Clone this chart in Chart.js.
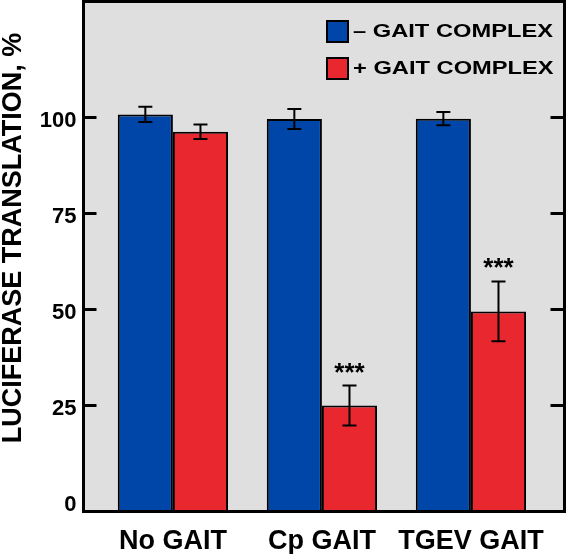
<!DOCTYPE html>
<html>
<head>
<meta charset="utf-8">
<script src="https://cdn.jsdelivr.net/npm/chart.js@4/dist/chart.umd.min.js"></script>
<style>
  html, body { margin: 0; padding: 0; background: #fff; }
</style>
</head>
<body>
<canvas id="chart" width="566" height="554"></canvas>
<script>
const categories = ['No GAIT', 'Cp GAIT', 'TGEV GAIT'];
const seriesNames = ['\u2013 GAIT COMPLEX', '+ GAIT COMPLEX'];
const minusGait = [100.8, 99.6, 99.7];
const minusGaitErr = [2.0, 2.6, 1.7];
const plusGait = [96.3, 25.0, 49.5];
const plusGaitErr = [1.9, 5.2, 7.8];
const plusGaitMarks = ['', '***', '***'];
const yTicks = [0, 25, 50, 75, 100];
const yTitle = 'LUCIFERASE TRANSLATION, %';

const Y_MIN = -2.6, Y_MAX = 130.2;
const FONT = "'Liberation Sans', Arial, sans-serif";

// grey panel, error bars, stars, frame, inward ticks, legend, y title
const panelPlugin = {
  id: 'panel',
  beforeDraw(chart) {
    const { ctx, chartArea: a } = chart;
    ctx.save();
    ctx.fillStyle = '#dfdfdf';
    ctx.fillRect(a.left, a.top, a.right - a.left, a.bottom - a.top);
    ctx.restore();
  },
  afterDatasetsDraw(chart) {
    const { ctx, chartArea: a } = chart;
    const ys = chart.scales.y;
    ctx.save();
    ctx.strokeStyle = '#000';
    ctx.fillStyle = '#000';
    ctx.lineWidth = 2;
    chart.data.datasets.forEach((ds, i) => {
      const meta = chart.getDatasetMeta(i);
      meta.data.forEach((bar, j) => {
        const v = ds.data[j].y, e = ds.errors[j];
        const y1 = ys.getPixelForValue(v + e), y2 = ys.getPixelForValue(v - e);
        ctx.beginPath();
        ctx.moveTo(bar.x, y1); ctx.lineTo(bar.x, y2);
        ctx.moveTo(bar.x - 7, y1); ctx.lineTo(bar.x + 7, y1);
        ctx.moveTo(bar.x - 7, y2); ctx.lineTo(bar.x + 7, y2);
        ctx.stroke();
        if (ds.marks && ds.marks[j]) {
          ctx.font = 'bold 26px ' + FONT;
          ctx.textAlign = 'center';
          ctx.textBaseline = 'alphabetic';
          ctx.fillText(ds.marks[j], bar.x, y1 - 5);
        }
      });
    });

    // frame
    ctx.lineWidth = 3;
    ctx.strokeRect(a.left, a.top, a.right - a.left, a.bottom - a.top);
    // inward ticks
    yTicks.forEach(t => {
      if (t === 0) return;
      const y = ys.getPixelForValue(t);
      ctx.beginPath();
      ctx.moveTo(a.left, y); ctx.lineTo(a.left + 13, y);
      ctx.moveTo(a.right, y); ctx.lineTo(a.right - 14, y);
      ctx.stroke();
    });
    ctx.restore();
  },
  afterDraw(chart) {
    const { ctx } = chart;
    ctx.save();
    // legend inside the panel
    chart.data.datasets.forEach((ds, i) => {
      const top = 21 + i * 37;
      ctx.fillStyle = ds.backgroundColor;
      ctx.fillRect(327, top, 21, 21);
      ctx.strokeStyle = '#000';
      ctx.lineWidth = 2;
      ctx.strokeRect(327, top, 21, 21);
      ctx.save();
      ctx.translate(353, top + 11);
      ctx.scale(1.28, 1);
      ctx.fillStyle = '#000';
      ctx.font = 'bold 18.5px ' + FONT;
      ctx.textAlign = 'left';
      ctx.textBaseline = 'middle';
      ctx.fillText(ds.label, 0, 0);
      ctx.restore();
    });
    // y axis title
    ctx.translate(14, 238);
    ctx.rotate(-Math.PI / 2);
    ctx.fillStyle = '#000';
    ctx.font = 'bold 27px ' + FONT;
    ctx.textAlign = 'center';
    ctx.textBaseline = 'middle';
    ctx.fillText(yTitle, 0, 0);
    ctx.restore();
  }
};

const ctx = document.getElementById('chart').getContext('2d');
new Chart(ctx, {
  type: 'bar',
  data: {
    datasets: [{
      label: seriesNames[0],
      data: minusGait.map((v, i) => ({ x: i, y: v })),
      errors: minusGaitErr,
      backgroundColor: '#0046a8',
      borderColor: '#000',
      borderWidth: 2,
      base: Y_MIN
    }, {
      label: seriesNames[1],
      data: plusGait.map((v, i) => ({ x: i, y: v })),
      errors: plusGaitErr,
      marks: plusGaitMarks,
      backgroundColor: '#e8282e',
      borderColor: '#000',
      borderWidth: 2,
      base: Y_MIN
    }]
  },
  options: {
    responsive: false,
    animation: false,
    devicePixelRatio: 1,
    categoryPercentage: 0.74,
    barPercentage: 1,
    layout: { padding: { top: 1.5, right: 1.5, left: 0, bottom: 0 } },
    plugins: { legend: { display: false }, tooltip: { enabled: false } },
    scales: {
      x: {
        type: 'linear',
        offset: false,
        min: -0.6,
        max: 2.628,
        grid: { display: false, drawTicks: false },
        border: { display: false },
        ticks: {
          stepSize: 1,
          includeBounds: false,
          autoSkip: false,
          maxRotation: 0,
          padding: 14,
          color: '#000',
          font: { family: FONT, size: 27, weight: 'bold' },
          callback: v => categories[v] ?? ''
        },
        afterFit: s => { s.height = 42.5; s.paddingLeft = 0; s.paddingRight = 0; }
      },
      y: {
        min: Y_MIN,
        max: Y_MAX,
        grid: { display: false, drawTicks: false },
        border: { display: false },
        ticks: {
          stepSize: 25,
          includeBounds: false,
          padding: 7,
          labelOffset: 3,
          color: '#000',
          font: { family: FONT, size: 22, weight: 'bold' },
          callback: v => yTicks.includes(v) ? v : ''
        },
        afterFit: s => { s.width = 83.5; s.paddingTop = 0; s.paddingBottom = 0; }
      }
    }
  },
  plugins: [panelPlugin]
});
</script>
</body>
</html>
